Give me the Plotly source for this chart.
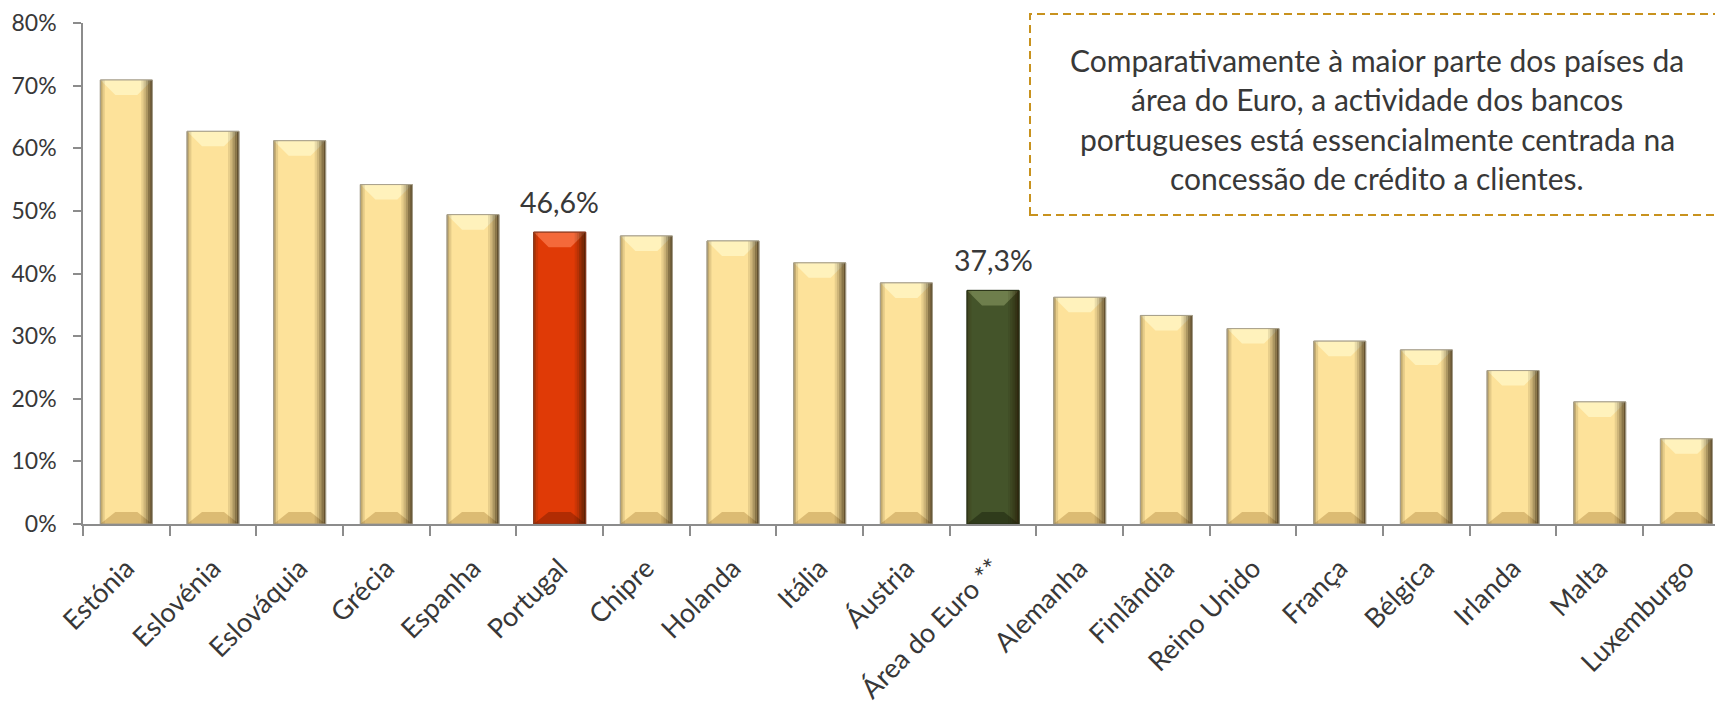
import plotly.graph_objects as go

# ---------------- data ----------------
categories = ["Estónia", "Eslovénia", "Eslováquia", "Grécia", "Espanha", "Portugal",
              "Chipre", "Holanda", "Itália", "Áustria", "Área do Euro **", "Alemanha",
              "Finlândia", "Reino Unido", "França", "Bélgica", "Irlanda", "Malta",
              "Luxemburgo"]
values = [70.9, 62.7, 61.2, 54.2, 49.4, 46.6, 46.0, 45.2, 41.7, 38.5, 37.3, 36.2,
          33.3, 31.2, 29.2, 27.8, 24.5, 19.5, 13.6]
highlight_red = ["Portugal"]
highlight_green = ["Área do Euro **"]
labelled = ["Portugal", "Área do Euro **"]
y_ticks = [0, 10, 20, 30, 40, 50, 60, 70, 80]
note_lines = ["Comparativamente à maior parte dos países da",
              "área do Euro, a actividade dos bancos",
              "portugueses está essencialmente centrada na",
              "concessão de crédito a clientes."]

# ---------------- styles ----------------
FONT = "Lato"
TXT = "#383838"
PAL = {
    "gold": dict(main="#FDE29A", top="#FFF2BC", bottom="#D6B46C", line="#A8A08C"),
    "red": dict(main="#E03A06", top="#F4693A", bottom="#A82A04", line="#8A3A20"),
    "green": dict(main="#44542A", top="#6E7E4C", bottom="#2C3719", line="#2A3318"),
}

def pal_for(c):
    if c in highlight_red:
        return PAL["red"]
    if c in highlight_green:
        return PAL["green"]
    return PAL["gold"]

pals = [pal_for(c) for c in categories]

BW = 0.6          # bar width in category units
PX_X = 86.7       # pixels per category
PX_Y = 6.2625     # pixels per 1 %
hw = BW / 2
dx = 15 / PX_X
dy_top = 15 / PX_Y
dy_bot = 12 / PX_Y

fig = go.Figure()
fig.add_trace(go.Bar(
    x=categories, y=values, width=BW,
    marker=dict(color=[p["main"] for p in pals],
                line=dict(color=[p["line"] for p in pals], width=1)),
    hoverinfo="x+y", showlegend=False,
))

shapes = []
for i, (v, p) in enumerate(zip(values, pals)):
    xl, xr = i - hw, i + hw
    # top bevel
    shapes.append(dict(
        type="path", xref="x", yref="y", layer="above", line=dict(width=0),
        fillcolor=p["top"],
        path=f"M {xl} {v} L {xr} {v} L {xr - dx} {v - dy_top} L {xl + dx} {v - dy_top} Z"))
    # bottom bevel
    shapes.append(dict(
        type="path", xref="x", yref="y", layer="above", line=dict(width=0),
        fillcolor=p["bottom"], opacity=0.85,
        path=f"M {xl} 0 L {xr} 0 L {xr - dx} {dy_bot} L {xl + dx} {dy_bot} Z"))
    # right edge shading
    sw = 2.2 / PX_X
    for k, a in enumerate([0.1, 0.22, 0.38, 0.55, 0.72]):
        x0 = xr - (5 - k) * sw
        shapes.append(dict(type="rect", xref="x", yref="y", layer="above",
                           line=dict(width=0), fillcolor=f"rgba(40,25,5,{a})",
                           x0=x0, x1=x0 + sw, y0=0, y1=v))
    # left edge shading
    for k, a in enumerate([0.3, 0.12]):
        x0 = xl + k * sw
        shapes.append(dict(type="rect", xref="x", yref="y", layer="above",
                           line=dict(width=0), fillcolor=f"rgba(60,40,10,{a})",
                           x0=x0, x1=x0 + sw, y0=0, y1=v))
    # outline
    shapes.append(dict(type="rect", xref="x", yref="y", layer="above",
                       line=dict(width=1, color=p["line"]), fillcolor="rgba(0,0,0,0)",
                       x0=xl, x1=xr, y0=0, y1=v))

# plot area in pixels
L, T, W, H = 83, 23, 1632, 501

def px_to_paper_x(px):
    return (px - L) / W

def px_to_paper_y(py):
    return (T + H - py) / H

# dashed note box
shapes.append(dict(type="rect", xref="paper", yref="paper", layer="above",
                   x0=px_to_paper_x(1030), x1=px_to_paper_x(1730),
                   y0=px_to_paper_y(215), y1=px_to_paper_y(14),
                   line=dict(color="#C8921E", width=2, dash="8px,5px"),
                   fillcolor="rgba(0,0,0,0)"))

annotations = []
for c, v in zip(categories, values):
    if c in labelled:
        annotations.append(dict(
            x=c, y=v, xref="x", yref="y", showarrow=False, yanchor="bottom",
            yshift=11, text=f"{v:.1f}".replace(".", ",") + "%",
            font=dict(family=FONT, size=28.5, color=TXT)))

line_y = [60, 99, 138.5, 178]
for txt, yy in zip(note_lines, line_y):
    annotations.append(dict(
        x=px_to_paper_x(1377), y=px_to_paper_y(yy), xref="paper", yref="paper",
        showarrow=False, xanchor="center", yanchor="middle", text=txt,
        font=dict(family=FONT, size=30, color=TXT)))

fig.update_layout(
    width=1715, height=706,
    margin=dict(l=L, r=0, t=T, b=706 - T - H, autoexpand=False),
    paper_bgcolor="white", plot_bgcolor="white",
    bargap=0.4,
    shapes=shapes, annotations=annotations,
    font=dict(family=FONT, color=TXT),
    xaxis=dict(
        range=[-0.5, 18.33], type="category", automargin=False,
        showline=True, linecolor="#8c8c8c", linewidth=1.5,
        ticks="outside", tickson="boundaries", ticklen=10, tickcolor="#8c8c8c",
        tickwidth=1.5, tickangle=-45, ticklabelstandoff=16, ticklabelshift=0,
        tickfont=dict(family=FONT, size=27, color=TXT),
        showgrid=False, zeroline=False,
    ),
    yaxis=dict(
        range=[0, 80], tickvals=y_ticks, ticktext=[f"{t}%" for t in y_ticks],
        automargin=False,
        showline=True, linecolor="#8c8c8c", linewidth=1.5,
        ticks="outside", ticklen=8, tickcolor="#8c8c8c", tickwidth=1.5,
        ticklabelstandoff=12,
        tickfont=dict(family=FONT, size=23, color=TXT),
        showgrid=False, zeroline=False,
    ),
)

fig.write_html("out.html", config={"displayModeBar": False},
               post_script="document.body.style.margin='0';document.body.style.overflow='hidden';")
